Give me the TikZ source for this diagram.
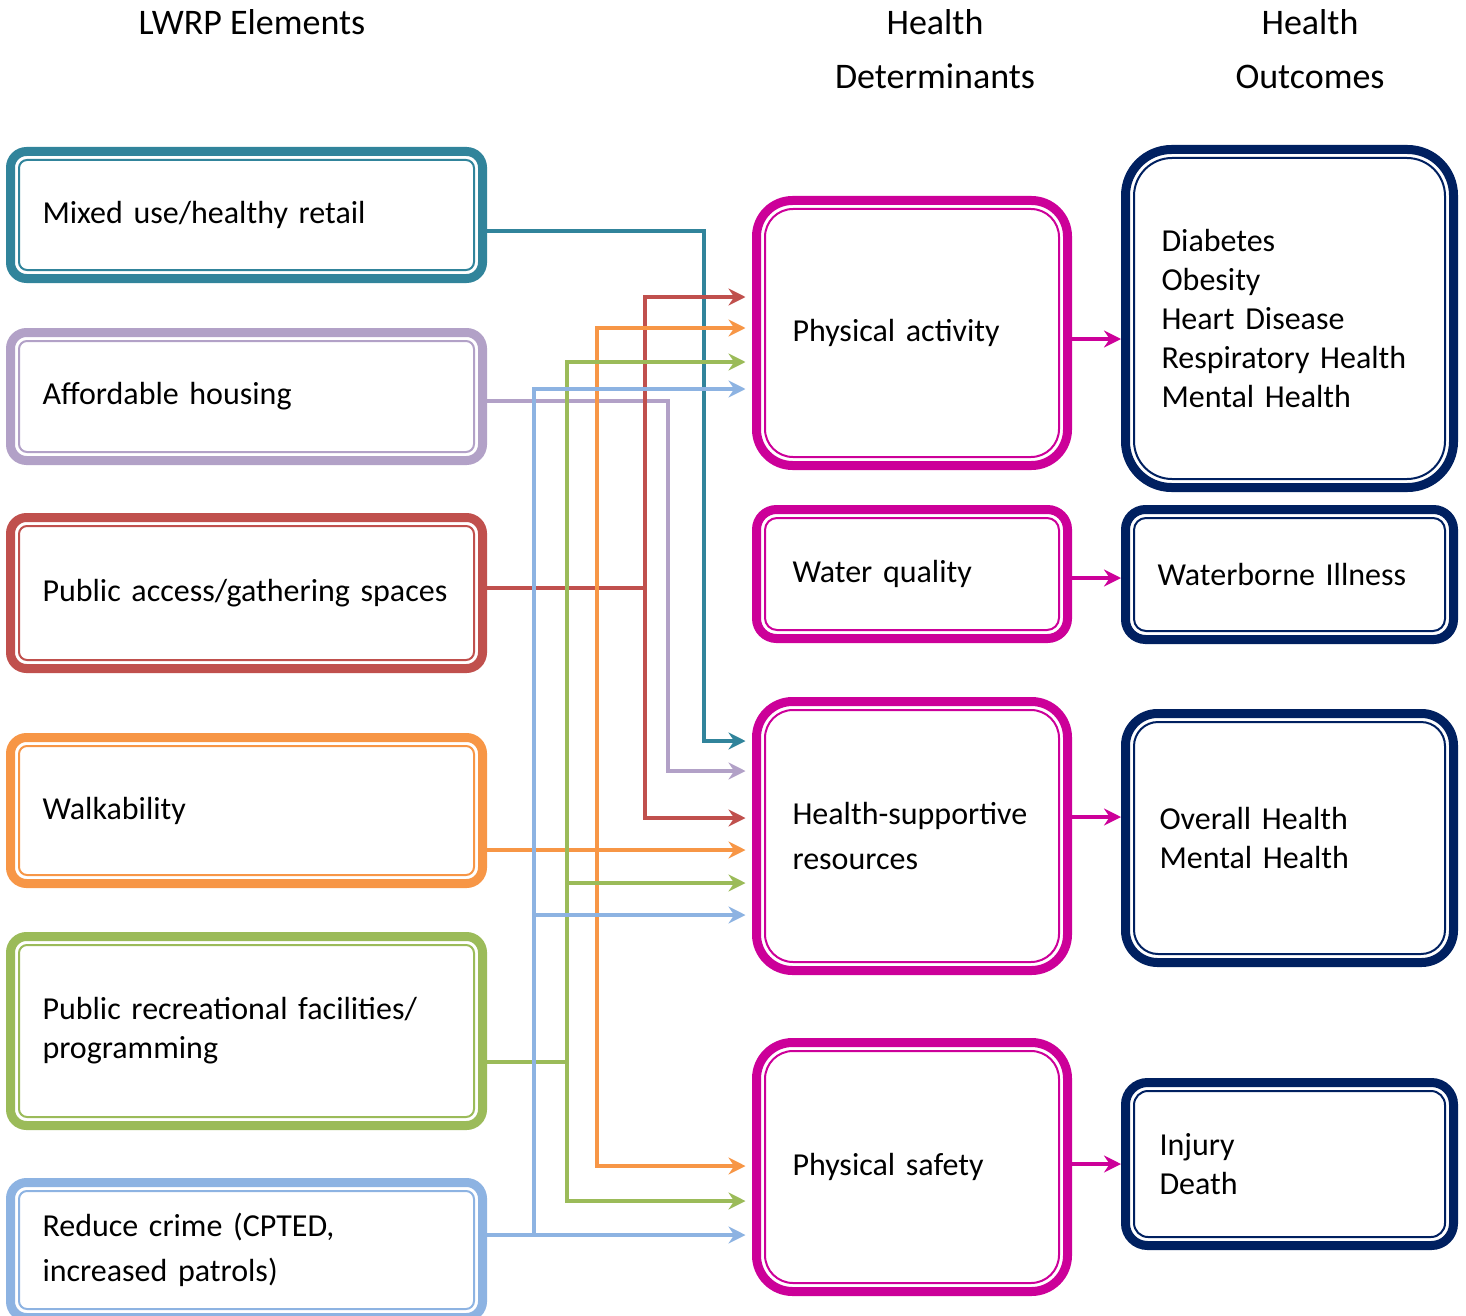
\documentclass[tikz,border=0pt]{standalone}
\usepackage{fontspec}
\setmainfont{Carlito}
\usetikzlibrary{arrows.meta,calc}
\definecolor{lwteal}{HTML}{31849B}
\definecolor{lwpurple}{HTML}{B2A1C7}
\definecolor{lwred}{HTML}{C0504D}
\definecolor{lworange}{HTML}{F79646}
\definecolor{lwgreen}{HTML}{9BBB59}
\definecolor{lwblue}{HTML}{8DB3E2}
\definecolor{lwmag}{HTML}{CC0099}
\definecolor{lwnavy}{HTML}{002060}

\begin{document}
\begin{tikzpicture}[x=0.5pt, y=-0.5pt,
    head/.style={font=\fontsize{18}{27}\selectfont, align=center},
    dbox/.style={draw=#1, line width=4.5pt, outer sep=0pt, rounded corners=8pt,
      inner xsep=16pt, align=left, font=\fontsize{16}{19.5}\selectfont},
    wire/.style={draw=#1, line width=1.6pt},
    conn/.style={wire=#1, -{Stealth[length=8.5pt, width=8.5pt, inset=2.8pt]}, shorten >=5.5pt}]
    \useasboundingbox (0,0) rectangle (1466,1316);

    \node[head] (hlwrp) at (252,22) {LWRP Elements};
    \node[head] (hdet) at (935,49) {Health\\Determinants};
    \node[head] (hout) at (1310,49) {Health\\Outcomes};

    \node[dbox=lwteal, text width=204pt, minimum height=63.5pt] (mixed) at (246.5,215) {Mixed use/healthy retail};
    \node[dbox=lwpurple, text width=204pt, minimum height=64pt] (afford) at (246.5,396.5) {Affordable housing};
    \node[dbox=lwred, text width=204pt, minimum height=75.5pt] (access) at (246.5,593) {Public access/gathering spaces};
    \node[dbox=lworange, text width=204pt, minimum height=73pt] (walk) at (246.5,810.5) {Walkability};
    \node[dbox=lwgreen, text width=204pt, minimum height=94.5pt] (rec) at (246.5,1031) {Public recreational facilities/\\programming};
    \node[dbox=lwblue, text width=204pt, minimum height=67.5pt] (crime) at (246.5,1250) {Reduce crime (CPTED,\\[3pt]increased patrols)};

    \node[dbox=lwmag, rounded corners=18pt, inner xsep=18pt, text width=119.5pt, minimum height=132.5pt] (activity) at (912,333) {Physical activity};
    \node[dbox=lwmag, rounded corners=10pt, inner xsep=18pt, text width=119.5pt, minimum height=64.5pt] (water) at (912,574) {Water quality};
    \node[dbox=lwmag, rounded corners=18pt, inner xsep=18pt, text width=119.5pt, minimum height=134.5pt] (supp) at (912,836) {Health-supportive\\[3pt]resources};
    \node[dbox=lwmag, rounded corners=18pt, inner xsep=18pt, text width=119.5pt, minimum height=124.5pt] (safety) at (912,1167) {Physical safety};

    \node[dbox=lwnavy, rounded corners=23pt, inner xsep=18pt, text width=128pt, minimum height=169pt] (disease) at (1289.5,318.5) {Diabetes\\Obesity\\Heart Disease\\Respiratory Health\\Mental Health};
    \node[dbox=lwnavy, rounded corners=10pt, inner xsep=16pt, text width=132pt, minimum height=65pt] (waterill) at (1289.5,574.5) {Waterborne Illness};
    \node[dbox=lwnavy, rounded corners=16pt, inner xsep=17pt, text width=130pt, minimum height=124.5pt] (overall) at (1289.5,838) {Overall Health\\Mental Health};
    \node[dbox=lwnavy, rounded corners=11pt, inner xsep=17pt, text width=130pt, minimum height=81.5pt] (injury) at (1289.5,1164) {Injury\\Death};

    \foreach \n/\c/\r in {mixed/lwteal/4pt, afford/lwpurple/4pt, access/lwred/4pt, walk/lworange/4pt,
        rec/lwgreen/4pt, crime/lwblue/4pt, activity/lwmag/14pt, water/lwmag/6pt, supp/lwmag/14pt,
        safety/lwmag/14pt, disease/lwnavy/19pt, waterill/lwnavy/6pt, overall/lwnavy/12pt, injury/lwnavy/7pt}
      \draw[\c, line width=1pt, rounded corners=\r] ($(\n.south west)+(4.25pt,4.25pt)$) rectangle ($(\n.north east)-(4.25pt,4.25pt)$);

    \draw[conn=lwteal] (mixed.east |- 0,231) -| (704,741) -- (supp.west |- 0,741);
    \draw[conn=lwpurple] (afford.east |- 0,401) -| (668,771) -- (supp.west |- 0,771);

    \coordinate (jred) at (645,588);
    \draw[wire=lwred] (access.east |- jred) -- (jred);
    \foreach \t/\y in {activity/297, supp/818}
      \draw[conn=lwred] (jred) |- (\t.west |- 0,\y);

    \coordinate (jorange) at (597,850);
    \draw[conn=lworange] (walk.east |- jorange) -- (supp.west |- jorange);
    \foreach \t/\y in {activity/328, safety/1166}
      \draw[conn=lworange] (jorange) |- (\t.west |- 0,\y);

    \coordinate (jgreen) at (567,1062);
    \draw[wire=lwgreen] (rec.east |- jgreen) -- (jgreen);
    \foreach \t/\y in {activity/362, supp/883, safety/1201}
      \draw[conn=lwgreen] (jgreen) |- (\t.west |- 0,\y);

    \coordinate (jblue) at (534,1235);
    \draw[conn=lwblue] (crime.east |- jblue) -- (safety.west |- jblue);
    \foreach \t/\y in {activity/389, supp/915}
      \draw[conn=lwblue] (jblue) |- (\t.west |- 0,\y);

    \foreach \a/\b/\y in {activity/disease/339, water/waterill/578, supp/overall/817, safety/injury/1164}
      \draw[conn=lwmag, shorten >=2.25pt] (\a.east |- 0,\y) -- (\b.west |- 0,\y);
\end{tikzpicture}
\end{document}
